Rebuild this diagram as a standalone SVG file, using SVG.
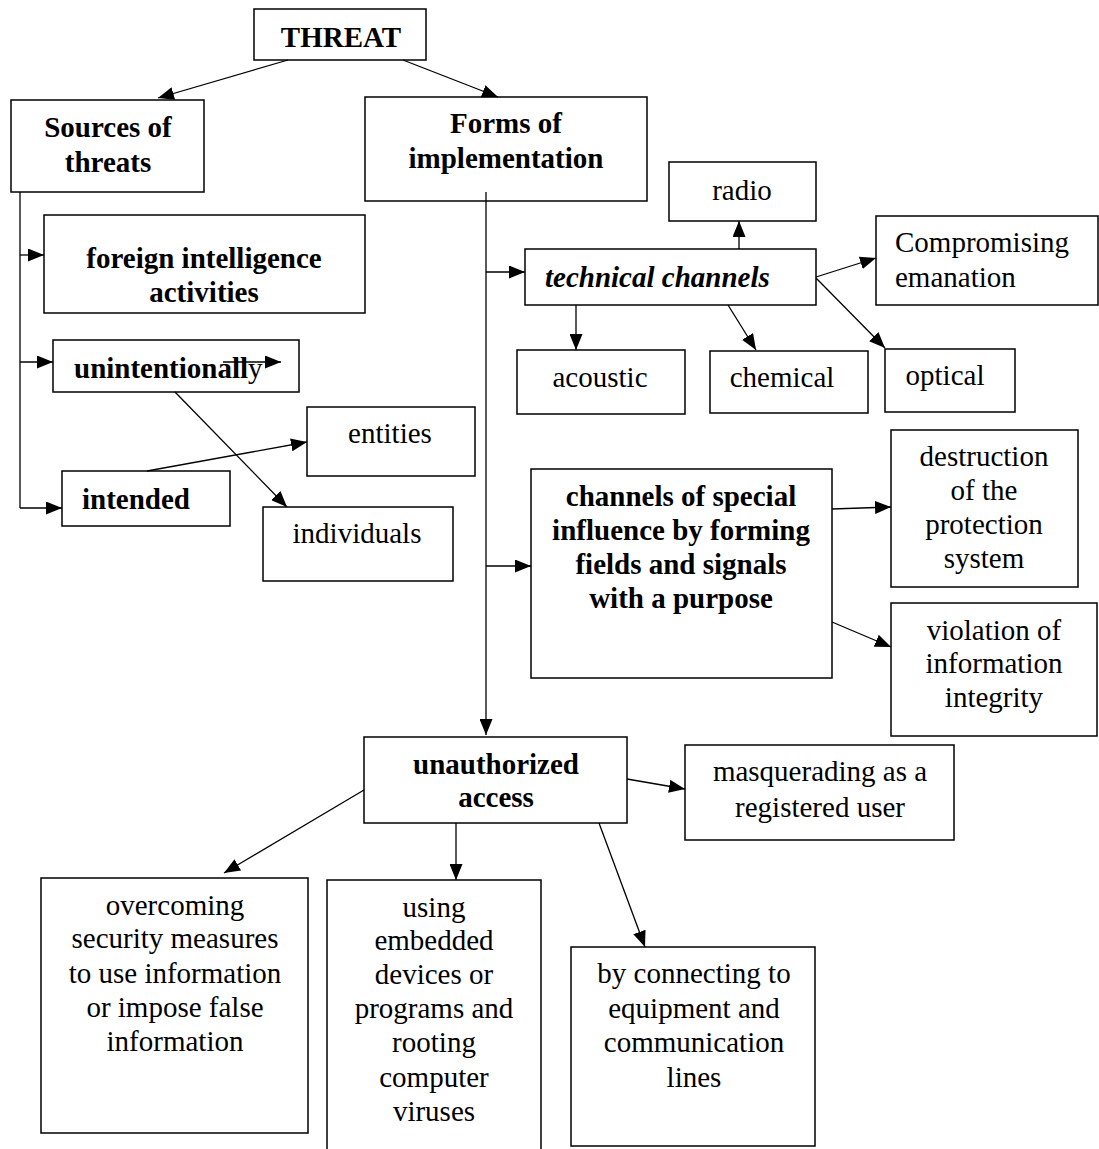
<svg xmlns="http://www.w3.org/2000/svg" width="1099" height="1149" viewBox="0 0 1099 1149">
<style>
rect{fill:#fff;stroke:#000;stroke-width:1.5}
text{font-family:"Liberation Serif","Times New Roman",serif;font-size:29px;fill:#000}
.b{font-weight:bold}
.bi{font-weight:bold;font-style:italic}
.c{text-anchor:middle}
#connectors line{stroke:#000;stroke-width:1.3;fill:none}
</style>
<defs>
<marker id="ah" markerUnits="userSpaceOnUse" markerWidth="16" markerHeight="13" refX="16" refY="6.5" orient="auto">
<path d="M0,0 L16,6.5 L0,13 z" fill="#000"/>
</marker>
</defs>
<rect x="0" y="0" width="1099" height="1149" style="stroke:none"/>
<g id="threat"><rect x="254" y="9" width="172" height="51"/><text class="b c" x="341" y="47">THREAT</text></g>
<g id="sources"><rect x="11" y="100" width="193" height="92"/><text class="b c" x="108" y="137">Sources of</text><text class="b c" x="108" y="172">threats</text></g>
<g id="forms"><rect x="365" y="97" width="282" height="104"/><text class="b c" x="506" y="133">Forms of</text><text class="b c" x="506" y="168">implementation</text></g>
<g id="foreign"><rect x="44" y="215" width="321" height="98"/><text class="b c" x="204" y="268">foreign intelligence</text><text class="b c" x="204" y="302">activities</text></g>
<g id="unintentionally"><rect x="53" y="340" width="246" height="52"/><text class="b" x="74" y="378">unintentionall<tspan style="font-weight:normal">y</tspan></text></g>
<g id="intended"><rect x="62" y="471" width="168" height="55"/><text class="b" x="82" y="509">intended</text></g>
<g id="entities"><rect x="307" y="407" width="168" height="69"/><text class="c" x="390" y="443">entities</text></g>
<g id="individuals"><rect x="263" y="507" width="190" height="74"/><text class="c" x="357" y="543">individuals</text></g>
<g id="radio"><rect x="669" y="162" width="147" height="59"/><text class="c" x="742" y="200">radio</text></g>
<g id="technical"><rect x="525" y="249" width="291" height="56"/><text class="bi" x="545" y="287">technical channels</text></g>
<g id="compromising"><rect x="876" y="216" width="222" height="89"/><text x="895" y="252">Compromising</text><text x="895" y="287">emanation</text></g>
<g id="acoustic"><rect x="517" y="350" width="168" height="64"/><text class="c" x="600" y="387">acoustic</text></g>
<g id="chemical"><rect x="710" y="351" width="158" height="62"/><text class="c" x="782" y="387">chemical</text></g>
<g id="optical"><rect x="885" y="349" width="130" height="63"/><text class="c" x="945" y="385">optical</text></g>
<g id="special"><rect x="531" y="469" width="301" height="209"/><text class="b c" x="681" y="506">channels of special</text><text class="b c" x="681" y="540">influence by forming</text><text class="b c" x="681" y="574">fields and signals</text><text class="b c" x="681" y="608">with a purpose</text></g>
<g id="destruction"><rect x="891" y="430" width="187" height="157"/><text class="c" x="984" y="466">destruction</text><text class="c" x="984" y="500">of the</text><text class="c" x="984" y="534">protection</text><text class="c" x="984" y="568">system</text></g>
<g id="violation"><rect x="891" y="603" width="206" height="133"/><text class="c" x="994" y="640">violation of</text><text class="c" x="994" y="673">information</text><text class="c" x="994" y="707">integrity</text></g>
<g id="unauthorized"><rect x="364" y="737" width="263" height="86"/><text class="b c" x="496" y="774">unauthorized</text><text class="b c" x="496" y="807">access</text></g>
<g id="masquerading"><rect x="685" y="745" width="269" height="95"/><text class="c" x="820" y="781">masquerading as a</text><text class="c" x="820" y="817">registered user</text></g>
<g id="overcoming"><rect x="41" y="878" width="267" height="255"/><text class="c" x="175" y="915">overcoming</text><text class="c" x="175" y="948">security measures</text><text class="c" x="175" y="983">to use information</text><text class="c" x="175" y="1017">or impose false</text><text class="c" x="175" y="1051">information</text></g>
<g id="using"><rect x="327" y="880" width="214" height="275"/><text class="c" x="434" y="917">using</text><text class="c" x="434" y="950">embedded</text><text class="c" x="434" y="984">devices or</text><text class="c" x="434" y="1018">programs and</text><text class="c" x="434" y="1052">rooting</text><text class="c" x="434" y="1087">computer</text><text class="c" x="434" y="1121">viruses</text></g>
<g id="connecting"><rect x="571" y="947" width="244" height="199"/><text class="c" x="694" y="983">by connecting to</text><text class="c" x="694" y="1018">equipment and</text><text class="c" x="694" y="1052">communication</text><text class="c" x="694" y="1087">lines</text></g>
<g id="connectors">
<line x1="288" y1="60" x2="158" y2="98" marker-end="url(#ah)"/>
<line x1="403" y1="60" x2="498" y2="97" marker-end="url(#ah)"/>
<line x1="20" y1="192" x2="20" y2="508"/>
<line x1="20" y1="255" x2="44" y2="255" marker-end="url(#ah)"/>
<line x1="20" y1="362" x2="53" y2="362" marker-end="url(#ah)"/>
<line x1="20" y1="508" x2="62" y2="508" marker-end="url(#ah)"/>
<line x1="223" y1="362" x2="281" y2="362" marker-end="url(#ah)"/>
<line x1="147" y1="471" x2="307" y2="442" marker-end="url(#ah)"/>
<line x1="175" y1="392" x2="287" y2="507" marker-end="url(#ah)"/>
<line x1="486" y1="192" x2="486" y2="735" marker-end="url(#ah)"/>
<line x1="486" y1="272" x2="525" y2="272" marker-end="url(#ah)"/>
<line x1="486" y1="566" x2="531" y2="566" marker-end="url(#ah)"/>
<line x1="739" y1="249" x2="739" y2="221" marker-end="url(#ah)"/>
<line x1="816" y1="277" x2="876" y2="258" marker-end="url(#ah)"/>
<line x1="816" y1="278" x2="885" y2="348" marker-end="url(#ah)"/>
<line x1="576" y1="305" x2="576" y2="350" marker-end="url(#ah)"/>
<line x1="728" y1="305" x2="756" y2="350" marker-end="url(#ah)"/>
<line x1="832" y1="509" x2="891" y2="507" marker-end="url(#ah)"/>
<line x1="832" y1="622" x2="891" y2="647" marker-end="url(#ah)"/>
<line x1="627" y1="779" x2="685" y2="789" marker-end="url(#ah)"/>
<line x1="364" y1="790" x2="224" y2="873" marker-end="url(#ah)"/>
<line x1="456" y1="823" x2="456" y2="880" marker-end="url(#ah)"/>
<line x1="599" y1="823" x2="645" y2="947" marker-end="url(#ah)"/>
</g>
</svg>
